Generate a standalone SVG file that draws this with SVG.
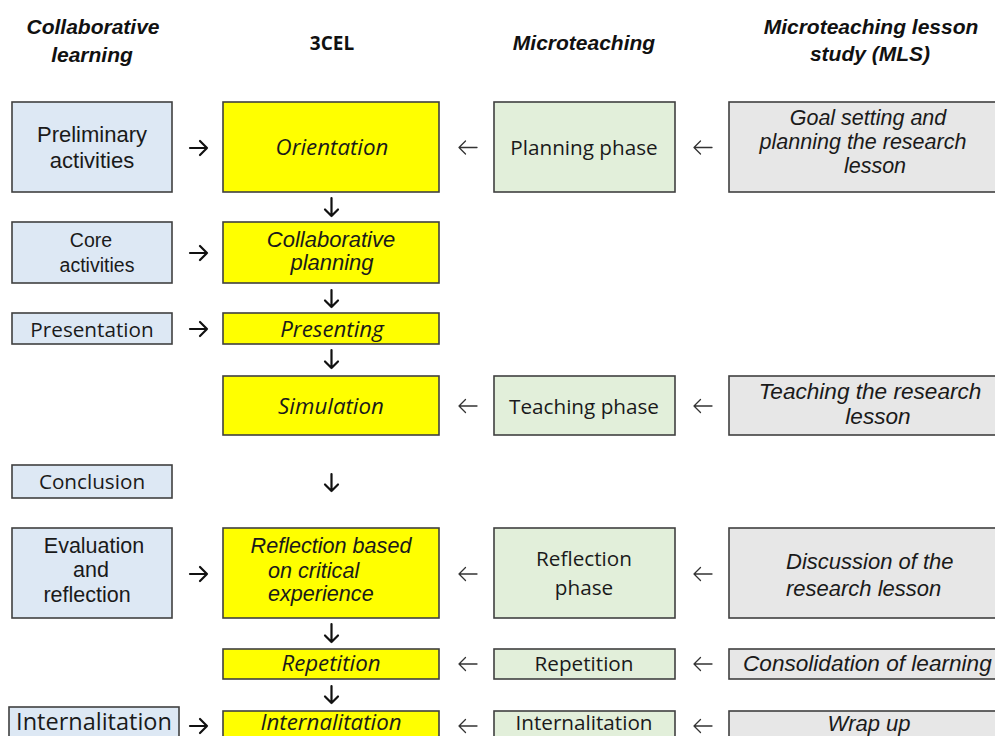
<svg xmlns="http://www.w3.org/2000/svg" width="995" height="736" viewBox="0 0 995 736">
<style>
.bg{fill:#ffffff}
.box{stroke:#404040;stroke-width:1.6}
.blue{fill:#dde8f4}
.yel{fill:#ffff00}
.grn{fill:#e2efda}
.gry{fill:#e7e7e7}
text{fill:#1a1a1a}
.hd{font-family:"Liberation Sans",Arial,sans-serif;font-weight:bold;font-style:italic;font-size:21px;text-anchor:middle;fill:#111}
.hd2{font-family:"Open Sans",sans-serif;font-weight:bold;font-size:19px;text-anchor:middle;fill:#111}
.ar{font-family:"Liberation Sans",Arial,sans-serif;font-size:21.5px;text-anchor:middle}
.ari{font-family:"Liberation Sans",Arial,sans-serif;font-style:italic;font-size:22px;text-anchor:middle}
.cal{font-family:"Open Sans",sans-serif;font-size:20.7px;text-anchor:middle}
.cali{font-family:"Open Sans",sans-serif;font-style:italic;font-size:22.3px;text-anchor:middle}
.st{text-anchor:start}
.ra{fill:none;stroke:#111;stroke-width:2.2;stroke-linecap:round;stroke-linejoin:round}
.la{fill:none;stroke:#333;stroke-width:1.3;stroke-linecap:round;stroke-linejoin:round}
.da{fill:none;stroke:#111;stroke-width:2.2;stroke-linecap:round;stroke-linejoin:round}
</style>
<rect class="bg" x="0" y="0" width="995" height="736"/>

<g id="headers">
<text class="hd" x="93" y="34">Collaborative</text>
<text class="hd" x="92" y="62">learning</text>
<text class="hd2" x="332" y="50">3CEL</text>
<text class="hd" x="584" y="50">Microteaching</text>
<text class="hd" x="871" y="34">Microteaching lesson</text>
<text class="hd" x="870" y="61">study (MLS)</text>
</g>

<g id="cl-preliminary"><rect class="box blue" x="12" y="102" width="160" height="90"/>
<text class="ar" x="92" y="142" style="font-size:22px">Preliminary</text>
<text class="ar" x="92" y="168" style="font-size:22px">activities</text></g>
<g id="cl-core"><rect class="box blue" x="12" y="222" width="160" height="61"/>
<text class="ar" x="91" y="247" style="font-size:19.5px">Core</text>
<text class="ar" x="97" y="272" style="font-size:19.5px">activities</text></g>
<g id="cl-presentation"><rect class="box blue" x="12" y="313" width="160" height="31"/>
<text class="cal" x="92" y="337">Presentation</text></g>
<g id="cl-conclusion"><rect class="box blue" x="12" y="465" width="160" height="33"/>
<text class="cal" x="92" y="489">Conclusion</text></g>
<g id="cl-evaluation"><rect class="box blue" x="12" y="528" width="160" height="90"/>
<text class="ar" x="94" y="553">Evaluation</text>
<text class="ar" x="91" y="577">and</text>
<text class="ar" x="87" y="602">reflection</text></g>
<g id="cl-internalitation"><rect class="box blue" x="9" y="707" width="170" height="40"/>
<text class="cal" x="94" y="730" style="font-size:23.5px">Internalitation</text></g>

<g id="c3-orientation"><rect class="box yel" x="223" y="102" width="216" height="90"/>
<text class="cali" x="332" y="155">Orientation</text></g>
<g id="c3-collab"><rect class="box yel" x="223" y="222" width="216" height="61"/>
<text class="ari" x="331" y="247">Collaborative</text>
<text class="ari" x="332" y="270">planning</text></g>
<g id="c3-presenting"><rect class="box yel" x="223" y="313" width="216" height="31"/>
<text class="cali" x="332" y="337">Presenting</text></g>
<g id="c3-simulation"><rect class="box yel" x="223" y="376" width="216" height="59"/>
<text class="cali" x="331" y="414">Simulation</text></g>
<g id="c3-reflection"><rect class="box yel" x="223" y="528" width="216" height="90"/>
<text class="ari" x="331" y="553" style="font-size:21.6px">Reflection based</text>
<text class="ari st" x="268" y="578" style="font-size:21.6px">on critical</text>
<text class="ari st" x="268" y="601" style="font-size:21.6px">experience</text></g>
<g id="c3-repetition"><rect class="box yel" x="223" y="649" width="216" height="30"/>
<text class="cali" x="331" y="671">Repetition</text></g>
<g id="c3-internalitation"><rect class="box yel" x="223" y="711" width="216" height="40"/>
<text class="cali" x="331" y="730">Internalitation</text></g>

<g id="mt-planning"><rect class="box grn" x="494" y="102" width="181" height="90"/>
<text class="cal" x="584" y="155">Planning phase</text></g>
<g id="mt-teaching"><rect class="box grn" x="494" y="376" width="181" height="59"/>
<text class="cal" x="584" y="414">Teaching phase</text></g>
<g id="mt-reflection"><rect class="box grn" x="494" y="528" width="181" height="90"/>
<text class="cal" x="584" y="566">Reflection</text>
<text class="cal" x="584" y="595">phase</text></g>
<g id="mt-repetition"><rect class="box grn" x="494" y="649" width="181" height="30"/>
<text class="cal" x="584" y="671">Repetition</text></g>
<g id="mt-internalitation"><rect class="box grn" x="494" y="711" width="181" height="40"/>
<text class="cal" x="584" y="730">Internalitation</text></g>

<g id="mls-goal"><rect class="box gry" x="729" y="102" width="280" height="90"/>
<text class="ari" x="868" y="125" style="font-size:21.5px">Goal setting and</text>
<text class="ari" x="863" y="149" style="font-size:21.5px">planning the research</text>
<text class="ari" x="875" y="173" style="font-size:21.5px">lesson</text></g>
<g id="mls-teaching"><rect class="box gry" x="729" y="376" width="280" height="59"/>
<text class="ari" x="870" y="399" style="font-size:22.6px">Teaching the research</text>
<text class="ari" x="878" y="424" style="font-size:22.6px">lesson</text></g>
<g id="mls-discussion"><rect class="box gry" x="729" y="528" width="280" height="90"/>
<text class="ari st" x="786" y="569">Discussion of the</text>
<text class="ari st" x="786" y="596">research lesson</text></g>
<g id="mls-consolidation"><rect class="box gry" x="729" y="649" width="280" height="30"/>
<text class="ari st" x="743" y="671" style="font-size:22.6px">Consolidation of learning</text></g>
<g id="mls-wrapup"><rect class="box gry" x="729" y="711" width="280" height="40"/>
<text class="ari" x="869" y="731">Wrap up</text></g>

<g id="connectors">
<path class="ra" d="M190,148 H207 M200,141 L207,148 L200,155"/>
<path class="ra" d="M190,253 H207 M200,246 L207,253 L200,260"/>
<path class="ra" d="M190,329 H207 M200,322 L207,329 L200,336"/>
<path class="ra" d="M190,574 H207 M200,567 L207,574 L200,581"/>
<path class="ra" d="M190,726 H207 M200,719 L207,726 L200,733"/>

<path class="la" d="M477,147.5 H459 M465.5,141 L459,147.5 L465.5,154"/>
<path class="la" d="M477,406 H459 M465.5,399.5 L459,406 L465.5,412.5"/>
<path class="la" d="M477,574 H459 M465.5,567.5 L459,574 L465.5,580.5"/>
<path class="la" d="M477,664 H459 M465.5,657.5 L459,664 L465.5,670.5"/>
<path class="la" d="M477,726 H459 M465.5,719.5 L459,726 L465.5,732.5"/>

<path class="la" d="M712,147.5 H694 M700.5,141 L694,147.5 L700.5,154"/>
<path class="la" d="M712,406 H694 M700.5,399.5 L694,406 L700.5,412.5"/>
<path class="la" d="M712,574 H694 M700.5,567.5 L694,574 L700.5,580.5"/>
<path class="la" d="M712,664 H694 M700.5,657.5 L694,664 L700.5,670.5"/>
<path class="la" d="M712,726 H694 M700.5,719.5 L694,726 L700.5,732.5"/>

<path class="da" d="M331.5,198 V216 M325,209.5 L331.5,216 L338,209.5"/>
<path class="da" d="M331.5,290 V307 M325,300.5 L331.5,307 L338,300.5"/>
<path class="da" d="M331.5,350 V368 M325,361.5 L331.5,368 L338,361.5"/>
<path class="da" d="M331.5,474 V491 M325,484.5 L331.5,491 L338,484.5"/>
<path class="da" d="M331.5,624 V642 M325,635.5 L331.5,642 L338,635.5"/>
<path class="da" d="M331.5,686 V703 M325,696.5 L331.5,703 L338,696.5"/>
</g>
</svg>
